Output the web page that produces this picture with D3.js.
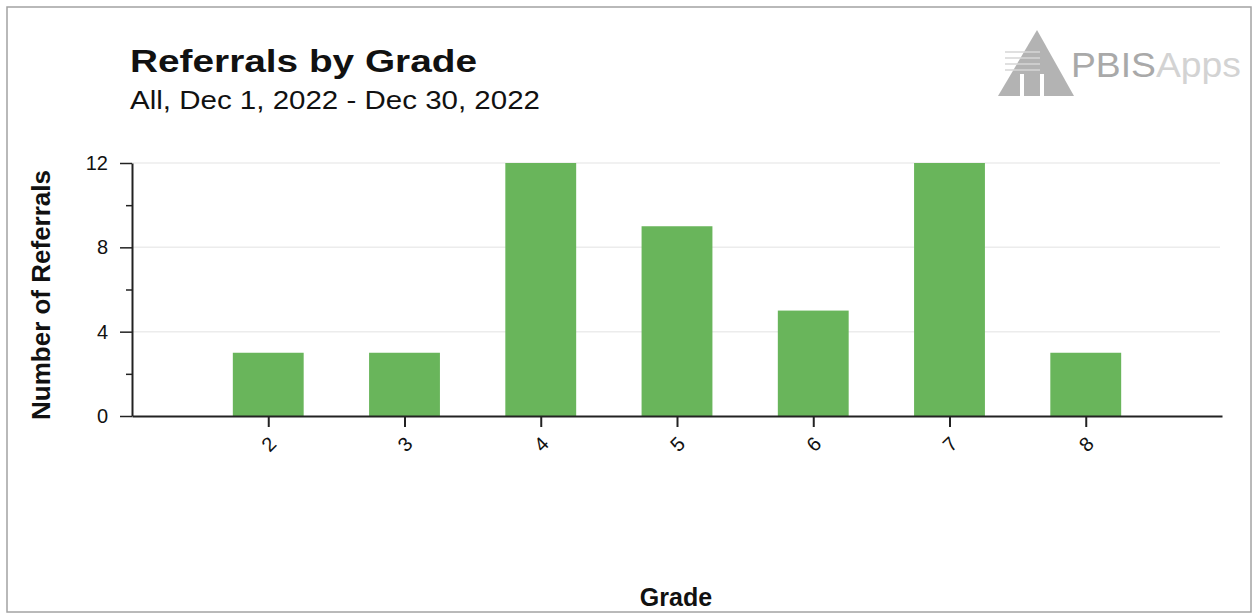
<!DOCTYPE html>
<html>
<head>
<meta charset="utf-8">
<script src="https://cdn.jsdelivr.net/npm/d3@7"></script>
<style>
    html, body { margin: 0; padding: 0; background: #ffffff; }
    svg { display: block; font-family: "Liberation Sans", Arial, sans-serif; }
</style>
</head>
<body>
<div id="chart"></div>
<script>
const grades = [2, 3, 4, 5, 6, 7, 8];
const referralCounts = [3, 3, 12, 9, 5, 12, 3];
const yMajorTicks = [0, 4, 8, 12];
const yMinorTicks = [2, 6, 10];
const chartTitle = 'Referrals by Grade';
const chartSubtitle = 'All, Dec 1, 2022 - Dec 30, 2022';
const yAxisTitle = 'Number of Referrals';
const xAxisTitle = 'Grade';

function main() {
    const svgWidth = 1253;
    const svgHeight = 614;
    const plot = {left: 132, right: 1222, top: 163, bottom: 416};

    const svg = d3.select('#chart').append('svg')
        .attr('width', svgWidth)
        .attr('height', svgHeight);

    // outer frame
    svg.append('rect')
        .attr('x', 7)
        .attr('y', 7)
        .attr('width', 1244)
        .attr('height', 605)
        .attr('fill', '#ffffff')
        .attr('stroke', '#a3a3a3')
        .attr('stroke-width', 1.5);

    drawHeader(svg);
    drawLogo(svg);

    const xScale = d3.scaleLinear()
        .domain([1, 9])
        .range([plot.left, plot.right]);
    const yScale = d3.scaleLinear()
        .domain([0, 12])
        .range([plot.bottom, plot.top]);

    // gridlines
    svg.append('g')
        .selectAll('line')
        .data(yMajorTicks.filter(d => d > 0))
        .enter()
        .append('line')
        .attr('x1', plot.left)
        .attr('x2', plot.right - 2)
        .attr('y1', d => yScale(d))
        .attr('y2', d => yScale(d))
        .attr('stroke', '#ececec')
        .attr('stroke-width', 1.5);

    // bars
    const barWidth = 0.52 * (xScale(2) - xScale(1));
    svg.append('g')
        .selectAll('rect')
        .data(grades.map((g, i) => ({grade: g, count: referralCounts[i]})))
        .enter()
        .append('rect')
        .attr('x', d => xScale(d.grade) - barWidth / 2)
        .attr('y', d => yScale(d.count))
        .attr('width', barWidth)
        .attr('height', d => yScale(0) - yScale(d.count))
        .attr('fill', '#69b55b');

    // y axis: minor ticks first, then major with labels
    const yMinorAxis = svg.append('g')
        .attr('transform', `translate(${plot.left},0)`)
        .call(d3.axisLeft(yScale).tickValues(yMinorTicks).tickSize(6).tickFormat(''));
    yMinorAxis.select('.domain').remove();

    const yAxis = svg.append('g')
        .attr('transform', `translate(${plot.left},0)`)
        .call(d3.axisLeft(yScale).tickValues(yMajorTicks).tickSize(12).tickSizeOuter(0).tickPadding(12));
    yAxis.selectAll('text')
        .style('font-size', '20px')
        .style('fill', '#111');

    svg.selectAll('.tick line').attr('stroke', '#222').attr('stroke-width', 1.5);
    yAxis.select('.domain').attr('stroke', '#222').attr('stroke-width', 2);

    // x axis
    const xAxis = svg.append('g')
        .attr('transform', `translate(0,${plot.bottom})`)
        .call(d3.axisBottom(xScale).tickValues(grades).tickSize(11).tickSizeOuter(0).tickFormat(d3.format('d')));
    xAxis.select('.domain').attr('stroke', '#222').attr('stroke-width', 2);
    xAxis.selectAll('.tick line').attr('stroke', '#222').attr('stroke-width', 2);
    xAxis.selectAll('text')
        .attr('y', 0)
        .attr('dy', '0.35em')
        .attr('transform', 'translate(0,28) rotate(-45)')
        .style('text-anchor', 'middle')
        .style('font-size', '20px')
        .style('fill', '#111');

    // axis titles
    svg.append('text')
        .attr('transform', 'translate(50,295) rotate(-90)')
        .attr('text-anchor', 'middle')
        .attr('fill', '#111')
        .style('font-size', '26px')
        .style('font-weight', 'bold')
        .text(yAxisTitle);

    svg.append('text')
        .attr('x', 676)
        .attr('y', 606)
        .attr('text-anchor', 'middle')
        .attr('fill', '#111')
        .style('font-size', '25px')
        .style('font-weight', 'bold')
        .text(xAxisTitle);
}

function drawHeader(svg) {
    svg.append('text')
        .attr('x', 130)
        .attr('y', 72)
        .attr('fill', '#111')
        .attr('textLength', 347)
        .attr('lengthAdjust', 'spacingAndGlyphs')
        .style('font-size', '32px')
        .style('font-weight', 'bold')
        .text(chartTitle);

    svg.append('text')
        .attr('x', 130)
        .attr('y', 109)
        .attr('fill', '#111')
        .attr('textLength', 410)
        .attr('lengthAdjust', 'spacingAndGlyphs')
        .style('font-size', '25px')
        .text(chartSubtitle);
}

function drawLogo(svg) {
    const logo = svg.append('g');

    logo.append('path')
        .attr('d', 'M998,96 L1037,30 L1074,96 Z')
        .attr('fill', '#b3b3b3');

    // stripes across the triangle
    [52, 58, 64, 70].forEach(y => {
        logo.append('line')
            .attr('x1', 1005).attr('x2', 1040)
            .attr('y1', y).attr('y2', y)
            .attr('stroke', '#d6d6d6')
            .attr('stroke-width', 1.5);
    });
    [1020, 1040].forEach(x => {
        logo.append('rect')
            .attr('x', x).attr('y', 74)
            .attr('width', 4).attr('height', 23)
            .attr('fill', '#ffffff');
    });

    const logoText = logo.append('text')
        .attr('x', 1071)
        .attr('y', 77)
        .attr('textLength', 170)
        .attr('lengthAdjust', 'spacingAndGlyphs')
        .style('font-size', '35px');
    logoText.append('tspan').attr('fill', '#a9a9a9').text('PBIS');
    logoText.append('tspan').attr('fill', '#d3d3d3').text('Apps');
}

main();
</script>
</body>
</html>
